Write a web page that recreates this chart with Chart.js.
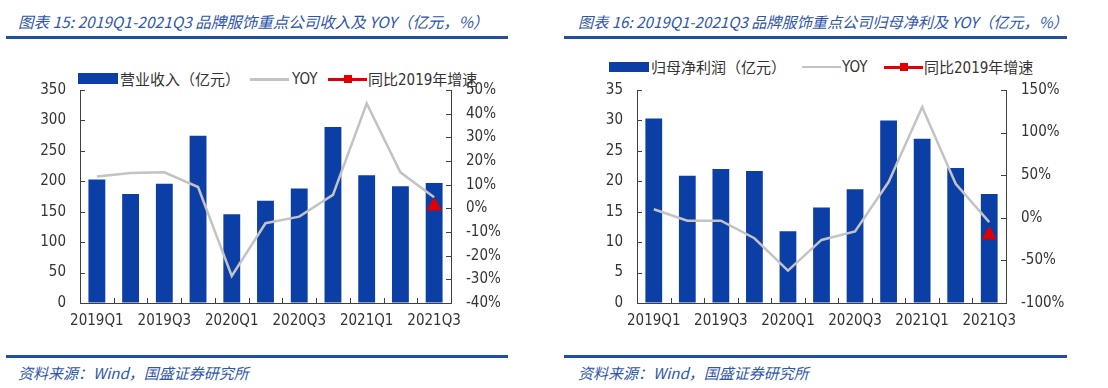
<!DOCTYPE html>
<html>
<head>
<meta charset="utf-8">
<script src="https://cdn.jsdelivr.net/npm/chart.js@4.4.0/dist/chart.umd.min.js"></script>
<style>
  html, body { margin: 0; padding: 0; background: #fff; }
  #page { position: relative; width: 1108px; height: 388px; overflow: hidden; background: #fff; }
  .title, .source { position: absolute; white-space: nowrap; font-family: "Noto Sans CJK SC", sans-serif; font-style: italic; color: #2f56ad; }
  .title { top: 10px; }
  .source { font-size: 15px; top: 362px; }
  .rule { position: absolute; height: 3px; background: #1f4fa0; }
  .legend { position: absolute; left: 0; width: 554px; height: 20px; font-family: "Noto Sans CJK SC", sans-serif; font-size: 15px; color: #333; white-space: nowrap; }
  .legend > span { position: absolute; top: 0; line-height: 20px; }
  .legend .box { top: 4px; width: 40px; height: 11px; background: #0c3fa6; }
  .legend .gline { top: 9px; width: 39px; height: 3px; background: #c3c3c3; }
  .legend .rline { top: 9px; width: 39px; height: 3px; background: #e00000; }
  .legend .rline::after { content: ""; position: absolute; left: 16px; top: -3px; width: 8px; height: 8px; background: #e00000; }
  .legend .latin { font-family: "DejaVu Sans Condensed", "Liberation Sans", sans-serif; }
  canvas { position: absolute; }
</style>
</head>
<body>
<div id="page">
  <div class="title" style="left:18px; font-size:15.5px">图表 15: 2019Q1-2021Q3 品牌服饰重点公司收入及 YOY（亿元，%）</div>
  <div class="rule" style="left:6px; top:36px; width:502px"></div>
  <div class="legend" style="top:69px">
    <span class="box" style="left:78px"></span><span style="left:120px">营业收入（亿元）</span>
    <span class="gline" style="left:250px"></span><span class="latin" style="left:292px">YOY</span>
    <span class="rline" style="left:328px"></span><span style="left:368px">同比<span class="latin">2019</span>年增速</span>
  </div>
  <canvas id="revenueChart" width="554" height="260" style="left:0; top:80px"></canvas>
  <div class="rule" style="left:6px; top:355px; width:502px"></div>
  <div class="source" style="left:18px">资料来源：Wind，国盛证券研究所</div>

  <div class="title" style="left:578px; font-size:15.15px">图表 16: 2019Q1-2021Q3 品牌服饰重点公司归母净利及 YOY（亿元，%）</div>
  <div class="rule" style="left:564px; top:36px; width:503px"></div>
  <div class="legend" style="left:554px; top:57px">
    <span class="box" style="left:55px; top:5px; height:10px"></span><span style="left:97px">归母净利润（亿元）</span>
    <span class="gline" style="left:248px; height:2px"></span><span class="latin" style="left:288px">YOY</span>
    <span class="rline" style="left:330px"></span><span style="left:370px">同比<span class="latin">2019</span>年增速</span>
  </div>
  <canvas id="profitChart" width="554" height="260" style="left:554px; top:80px"></canvas>
  <div class="rule" style="left:564px; top:355px; width:503px"></div>
  <div class="source" style="left:578px">资料来源：Wind，国盛证券研究所</div>
</div>

<script>
// Categories
const quarters = ['2019Q1', '2019Q2', '2019Q3', '2019Q4', '2020Q1', '2020Q2', '2020Q3', '2020Q4', '2021Q1', '2021Q2', '2021Q3'];

// Chart 15: revenue (亿元) and YOY (%)
const revenue = [203, 179, 196, 275, 146, 168, 188, 289, 210, 192, 197];
const revenueYoy = [13.5, 14.9, 15.2, 9, -28.6, -6.3, -3.5, 5.7, 44.3, 15.2, 4.7];
const revenueVs2019 = [null, null, null, null, null, null, null, null, null, null, 1];

// Chart 16: net profit (亿元) and YOY (%)
const profit = [30.3, 20.9, 22.0, 21.7, 11.8, 15.7, 18.7, 30.0, 27.0, 22.2, 17.9];
const profitYoy = [10, -3.4, -3.4, -24, -62, -26, -16, 42, 130, 40, -5];
const profitVs2019 = [null, null, null, null, null, null, null, null, null, null, -20];

// Axis ranges: min, max, step
const revenueAxis = [0, 350, 50];
const revenueYoyAxis = [-40, 50, 10];
const profitAxis = [0, 35, 5];
const profitYoyAxis = [-100, 150, 50];

const barColor = '#0c3fa6';
const lineColor = '#c3c3c3';
const markColor = '#e00000';
const axisColor = '#404040';
const tickFont = { family: '"DejaVu Sans Condensed", "Liberation Sans", sans-serif', size: 15 };

// small tick marks pointing into the plot, like the original
const innerTicks = {
    id: 'innerTicks',
    afterDraw(chart) {
        const ctx = chart.ctx;
        const area = chart.chartArea;
        const len = 5;
        ctx.save();
        ctx.strokeStyle = axisColor;
        ctx.lineWidth = 1;
        ctx.beginPath();
        const yl = chart.scales.yL;
        yl.ticks.forEach((t, i) => {
            const y = Math.round(yl.getPixelForTick(i)) + 0.5;
            ctx.moveTo(area.left, y);
            ctx.lineTo(area.left + len, y);
        });
        const yr = chart.scales.yR;
        yr.ticks.forEach((t, i) => {
            const y = Math.round(yr.getPixelForTick(i)) + 0.5;
            ctx.moveTo(area.right, y);
            ctx.lineTo(area.right - len, y);
        });
        const x = chart.scales.x;
        for (let i = 1; i < x.ticks.length; i++) {
            const px = Math.round((x.getPixelForTick(i - 1) + x.getPixelForTick(i)) / 2) + 0.5;
            ctx.moveTo(px, area.bottom);
            ctx.lineTo(px, area.bottom - len);
        }
        ctx.stroke();
        ctx.restore();
    }
};

// fixed axis sizes so both plots sit where the original ones do
function fixWidth(w) {
    return function(scale) {
        scale.width = w;
        scale.paddingTop = 0;
        scale.paddingBottom = 0;
    };
}

function makeChart(id, bars, yoy, vs2019, leftAxis, rightAxis, leftWidth, rightWidth) {
    const ctx = document.getElementById(id).getContext('2d');
    return new Chart(ctx, {
        data: {
            labels: quarters,
            datasets: [
                {
                    type: 'bar',
                    data: bars,
                    yAxisID: 'yL',
                    backgroundColor: barColor,
                    barPercentage: 0.5,
                    categoryPercentage: 1,
                    order: 3
                },
                {
                    type: 'line',
                    data: yoy,
                    yAxisID: 'yR',
                    borderColor: lineColor,
                    borderWidth: 2.5,
                    pointRadius: 0,
                    tension: 0,
                    order: 2
                },
                {
                    type: 'line',
                    data: vs2019,
                    yAxisID: 'yR',
                    showLine: false,
                    pointStyle: 'triangle',
                    pointRadius: 8,
                    backgroundColor: markColor,
                    borderColor: markColor,
                    order: 1
                }
            ]
        },
        options: {
            responsive: false,
            animation: false,
            layout: { padding: { top: 10, left: 0, right: 0, bottom: 0 } },
            plugins: { legend: { display: false }, tooltip: { enabled: false } },
            scales: {
                x: {
                    grid: { offset: true, drawOnChartArea: false, drawTicks: false },
                    border: { display: true, color: axisColor, width: 1 },
                    ticks: {
                        autoSkip: false,
                        maxRotation: 0,
                        padding: 9,
                        color: '#333',
                        font: tickFont,
                        callback: (v, i) => (i % 2 === 0 ? quarters[i] : '')
                    },
                    afterFit: (scale) => { scale.height = 37; }
                },
                yL: {
                    position: 'left',
                    min: leftAxis[0],
                    max: leftAxis[1],
                    grid: { drawOnChartArea: false, drawTicks: false },
                    border: { display: true, color: axisColor, width: 1 },
                    ticks: { stepSize: leftAxis[2], padding: 14, color: '#333', font: tickFont },
                    afterFit: fixWidth(leftWidth)
                },
                yR: {
                    position: 'right',
                    min: rightAxis[0],
                    max: rightAxis[1],
                    grid: { drawOnChartArea: false, drawTicks: false },
                    border: { display: true, color: axisColor, width: 1 },
                    ticks: { stepSize: rightAxis[2], padding: 15, color: '#333', font: tickFont, callback: (v) => v + '%' },
                    afterFit: fixWidth(rightWidth)
                }
            }
        },
        plugins: [innerTicks]
    });
}

document.addEventListener('DOMContentLoaded', function() {
    makeChart('revenueChart', revenue, revenueYoy, revenueVs2019, revenueAxis, revenueYoyAxis, 80, 103);
    makeChart('profitChart', profit, profitYoy, profitVs2019, profitAxis, profitYoyAxis, 83, 102);
});
</script>
</body>
</html>
